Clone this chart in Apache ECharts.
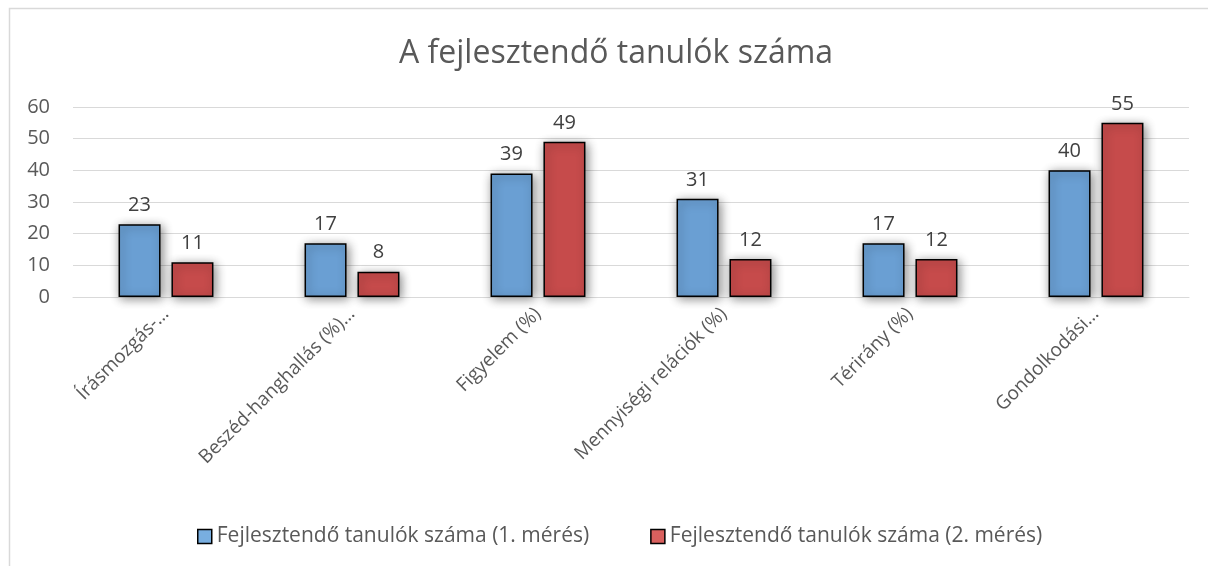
<!DOCTYPE html>
<html>
<head>
<meta charset="utf-8">
<script src="https://cdn.jsdelivr.net/npm/echarts@6/dist/echarts.min.js"></script>
<style>
html, body { margin: 0; padding: 0; background: #fff; }
#main { width: 1208px; height: 566px; }
</style>
</head>
<body>
<div id="main"></div>
<script>
// adatok
var categories = ['Írásmozgás-…', 'Beszéd-hanghallás (%)…', 'Figyelem (%)', 'Mennyiségi relációk (%)', 'Térirány (%)', 'Gondolkodási…'];
var meres1 = [23, 17, 39, 31, 17, 40];
var meres2 = [11, 8, 49, 12, 12, 55];
var seriesNames = ['Fejlesztendő tanulók száma (1. mérés)', 'Fejlesztendő tanulók száma (2. mérés)'];
var yTicks = [0, 10, 20, 30, 40, 50, 60];

var font = 'Open Sans';
var textColor = '#595959';

function barSeries(name, data, color) {
    return {
        name: name,
        type: 'bar',
        data: data,
        barWidth: 42,
        barGap: '26%',
        itemStyle: {
            color: color,
            borderColor: '#000',
            borderWidth: 1.5,
            shadowBlur: 10,
            shadowColor: 'rgba(0,0,0,0.45)',
            shadowOffsetX: 2,
            shadowOffsetY: 2
        },
        label: {
            show: true,
            position: 'top',
            distance: 9,
            fontFamily: font,
            fontSize: 20,
            color: '#404040'
        }
    };
}

var option = {
    animation: false,
    backgroundColor: '#fff',
    title: {
        text: 'A fejlesztendő tanulók száma',
        left: 394,
        top: 33,
        textStyle: { fontFamily: font, fontSize: 32, fontWeight: 'normal', color: textColor }
    },
    graphic: [{
        type: 'rect',
        shape: { x: 9.5, y: 8.5, width: 1220, height: 600 },
        style: { fill: 'none', stroke: '#d9d9d9', lineWidth: 1.5 },
        silent: true
    }],
    legend: {
        data: [
            { name: seriesNames[0], itemStyle: { color: '#78aee0', borderColor: '#000', borderWidth: 1.5, shadowBlur: 0 } },
            { name: seriesNames[1], itemStyle: { color: '#d9605e', borderColor: '#000', borderWidth: 1.5, shadowBlur: 0 } }
        ],
        bottom: 14,
        left: 192,
        itemWidth: 14,
        itemHeight: 14,
        itemGap: 61,
        icon: 'rect',
        textStyle: { fontFamily: font, fontSize: 21, color: textColor }
    },
    grid: { left: 73, right: 19, top: 107, height: 190, containLabel: false },
    xAxis: {
        type: 'category',
        data: categories,
        axisLine: { lineStyle: { color: '#d9d9d9', width: 1 } },
        axisTick: { show: false },
        axisLabel: {
            rotate: 45,
            interval: 0,
            margin: 14,
            fontFamily: font,
            fontSize: 19,
            color: textColor
        }
    },
    yAxis: {
        type: 'value',
        min: 0,
        max: 60,
        interval: 10,
        axisLine: { show: false },
        axisTick: { show: false },
        splitLine: { lineStyle: { color: '#d9d9d9', width: 1 } },
        axisLabel: {
            margin: 23,
            fontFamily: font,
            fontSize: 20,
            color: textColor,
            formatter: function (v) { return yTicks.indexOf(v) >= 0 ? String(v) : ''; }
        }
    },
    series: [
        barSeries(seriesNames[0], meres1, '#6a9fd3'),
        barSeries(seriesNames[1], meres2, '#c64b4b')
    ]
};

var myChart = echarts.init(document.getElementById('main'));
myChart.setOption(option);
</script>
</body>
</html>
